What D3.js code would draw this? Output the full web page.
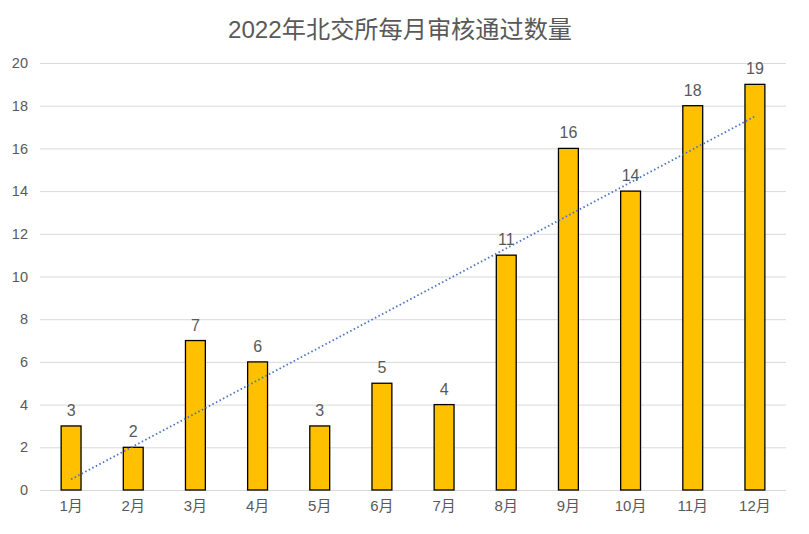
<!DOCTYPE html>
<html><head><meta charset="utf-8">
<script src="https://cdn.jsdelivr.net/npm/d3@7"></script>
<style>
body{margin:0;background:#fff;}
svg{display:block;font-family:"Liberation Sans","Noto Sans CJK SC",sans-serif;}
</style></head>
<body>
<svg id="chart" width="809" height="534"></svg>
<script>
const title = "2022年北交所每月审核通过数量";
const months = ["1月","2月","3月","4月","5月","6月","7月","8月","9月","10月","11月","12月"];
const values = [3,2,7,6,3,5,4,11,16,14,18,19];
const yTicks = [0,2,4,6,8,10,12,14,16,18,20];

(function(){
const svg = d3.select("#chart");
const pLeft = 40, pRight = 786, pTop = 63, pBottom = 490;

const x = d3.scaleBand().domain(months).range([pLeft, pRight]).paddingInner(0.68).paddingOuter(0.34);
const y = d3.scaleLinear().domain([0, 20]).range([pBottom, pTop]);

svg.append("text").attr("x", 400).attr("y", 38).attr("text-anchor", "middle")
  .attr("font-size", 24.2).attr("fill", "#595959").text(title);

// gridlines
svg.append("g").selectAll("line").data(yTicks).join("line")
  .attr("x1", pLeft).attr("x2", pRight)
  .attr("y1", d => y(d) + 0.5).attr("y2", d => y(d) + 0.5)
  .attr("stroke", "#d9d9d9").attr("stroke-width", 1);

// y axis labels
const yAxis = d3.axisLeft(y).tickValues(yTicks).tickSize(0).tickPadding(0);
const gy = svg.append("g").attr("transform", `translate(${pLeft - 12},0)`).call(yAxis);
gy.select(".domain").remove();
gy.selectAll("text").attr("font-size", 14.5).attr("fill", "#595959").attr("font-family", "Liberation Sans, sans-serif");

// x axis labels
const xAxis = d3.axisBottom(x).tickSize(0).tickPadding(0);
const gx = svg.append("g").attr("transform", `translate(0,${pBottom + 10})`).call(xAxis);
gx.select(".domain").remove();
gx.selectAll("text").attr("font-size", 15).attr("fill", "#595959").attr("font-family", "Liberation Sans, Noto Sans CJK SC, sans-serif");

// bars
svg.append("g").selectAll("rect").data(values).join("rect")
  .attr("x", (d, i) => x(months[i]))
  .attr("y", d => y(d))
  .attr("width", x.bandwidth())
  .attr("height", d => pBottom - y(d))
  .attr("fill", "#FFC000").attr("stroke", "#000").attr("stroke-width", 1.3);

// data labels
svg.append("g").selectAll("text").data(values).join("text")
  .attr("x", (d, i) => x(months[i]) + x.bandwidth() / 2)
  .attr("y", d => y(d) - 10)
  .attr("text-anchor", "middle").attr("font-size", 16).attr("fill", "#595959")
  .text(d => d);

// linear trendline from data
const n = values.length;
const xs = values.map((d, i) => i + 1);
const mx = d3.mean(xs), my = d3.mean(values);
const slope = d3.sum(xs, (xi, i) => (xi - mx) * (values[i] - my)) / d3.sum(xs, xi => (xi - mx) ** 2);
const icpt = my - slope * mx;
const cx = i => x(months[i]) + x.bandwidth() / 2;
svg.append("line")
  .attr("x1", cx(0)).attr("y1", y(icpt + slope * 1))
  .attr("x2", cx(n - 1)).attr("y2", y(icpt + slope * n))
  .attr("stroke", "#4472C4").attr("stroke-width", 1.8).attr("stroke-dasharray", "1.5,2.5");
})();
</script>
</body></html>
